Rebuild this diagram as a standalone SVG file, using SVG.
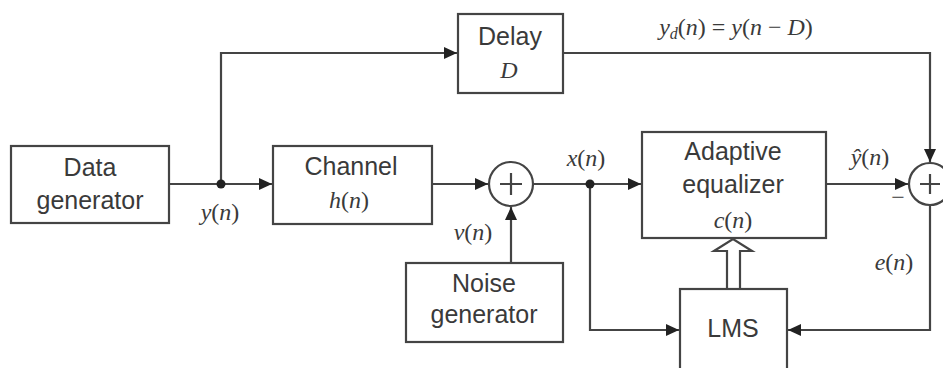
<svg xmlns="http://www.w3.org/2000/svg" width="943" height="368" viewBox="0 0 943 368">
<style>
.box{fill:#fff;stroke:#444;stroke-width:2.2}
.ln{fill:none;stroke:#444;stroke-width:2.2}
.t{font-family:"Liberation Sans",Arial,sans-serif;font-size:25px;fill:#3a3a3a;text-anchor:middle}
.m{font-family:"Liberation Serif","Times New Roman",serif;font-size:24px;fill:#3a3a3a;text-anchor:middle}
.i{font-style:italic}
</style>
<defs>
<marker id="ah" markerWidth="14" markerHeight="12" refX="13" refY="6" orient="auto" markerUnits="userSpaceOnUse">
<path d="M0,0 L13,6 L0,12 Z" fill="#222"/>
</marker>
</defs>
<rect width="943" height="368" fill="#fff"/>
<g id="connectors">
<path class="ln" d="M169,184 H272" marker-end="url(#ah)"/>
<path class="ln" d="M221,184 V53 H457" marker-end="url(#ah)"/>
<path class="ln" d="M563,53 H930 V162" marker-end="url(#ah)"/>
<path class="ln" d="M432,184 H488" marker-end="url(#ah)"/>
<path class="ln" d="M511,263 V207" marker-end="url(#ah)"/>
<path class="ln" d="M533,184 H641" marker-end="url(#ah)"/>
<path class="ln" d="M590,184 V330 H679" marker-end="url(#ah)"/>
<path class="ln" d="M826,184 H908" marker-end="url(#ah)"/>
<path class="ln" d="M930,205 V330 H788" marker-end="url(#ah)"/>
<polygon class="box" points="727,289 727,251 714,251 733,239 752,251 740,251 740,289"/>
<circle cx="221" cy="184" r="4.5" fill="#222"/>
<circle cx="590" cy="184" r="4.5" fill="#222"/>
<text class="m" x="220" y="220"><tspan class="i">y</tspan>(<tspan class="i">n</tspan>)</text>
<text class="m" x="473" y="240"><tspan class="i">v</tspan>(<tspan class="i">n</tspan>)</text>
<text class="m" x="586" y="166"><tspan class="i">x</tspan>(<tspan class="i">n</tspan>)</text>
<text class="m" x="870" y="165"><tspan class="i">ŷ</tspan>(<tspan class="i">n</tspan>)</text>
<text class="m" x="894" y="270"><tspan class="i">e</tspan>(<tspan class="i">n</tspan>)</text>
<text class="m" x="736" y="35"><tspan class="i">y</tspan><tspan class="i" font-size="16" dy="4">d</tspan><tspan dy="-4">(</tspan><tspan class="i">n</tspan>) = <tspan class="i">y</tspan>(<tspan class="i">n</tspan> − <tspan class="i">D</tspan>)</text>
<text class="m" x="898" y="205" font-size="20">−</text>
</g>
<g id="data-generator">
<rect class="box" x="11" y="146" width="158" height="77"/>
<text class="t" x="90" y="176">Data</text>
<text class="t" x="90" y="209">generator</text>
</g>
<g id="delay">
<rect class="box" x="458" y="14" width="105" height="79"/>
<text class="t" x="510" y="45">Delay</text>
<text class="m i" x="509" y="78">D</text>
</g>
<g id="channel">
<rect class="box" x="273" y="146" width="159" height="78"/>
<text class="t" x="351" y="175">Channel</text>
<text class="m" x="349" y="208"><tspan class="i">h</tspan>(<tspan class="i">n</tspan>)</text>
</g>
<g id="sum1">
<circle class="box" cx="511" cy="184" r="22"/>
<path class="ln" d="M500,184 H522 M511,173 V195"/>
</g>
<g id="noise-generator">
<rect class="box" x="406" y="263" width="157" height="79"/>
<text class="t" x="484" y="292">Noise</text>
<text class="t" x="484" y="323">generator</text>
</g>
<g id="adaptive-equalizer">
<rect class="box" x="642" y="132" width="184" height="106"/>
<text class="t" x="733" y="160">Adaptive</text>
<text class="t" x="733" y="193">equalizer</text>
<text class="m" x="733" y="228"><tspan class="i">c</tspan>(<tspan class="i">n</tspan>)</text>
</g>
<g id="sum2">
<circle class="box" cx="930" cy="184" r="21"/>
<path class="ln" d="M920,184 H940 M930,174 V194"/>
</g>
<g id="lms">
<rect class="box" x="680" y="289" width="107" height="82"/>
<text class="t" x="733" y="337">LMS</text>
</g>
</svg>
